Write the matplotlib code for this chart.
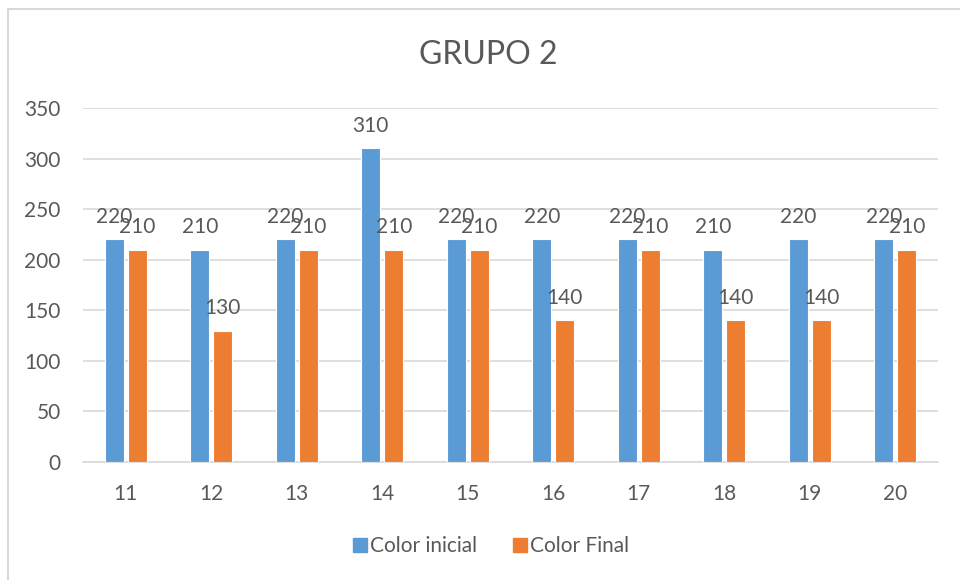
import matplotlib
matplotlib.use("Agg")
import matplotlib.pyplot as plt
from matplotlib.lines import Line2D
import numpy as np

# Measurements per student (group 2)
categories = ["11", "12", "13", "14", "15", "16", "17", "18", "19", "20"]
color_inicial = [220, 210, 220, 310, 220, 220, 220, 210, 220, 220]
color_final = [210, 130, 210, 210, 210, 140, 210, 140, 140, 210]

BLUE = "#5b9bd5"
ORANGE = "#ed7d31"
TEXT = "#595959"
GRID = "#d9d9d9"

plt.rcParams["font.family"] = ["Lato", "DejaVu Sans"]

fig = plt.figure(figsize=(9.6, 5.8), dpi=100)
ax = fig.add_axes([83 / 960, 1 - 462 / 580, 855 / 960, 354 / 580])

x = np.arange(len(categories))
w = 0.22
off = 0.135
b1 = ax.bar(x - off, color_inicial, w, color=BLUE, edgecolor="white", linewidth=0.8, zorder=3)
b2 = ax.bar(x + off, color_final, w, color=ORANGE, edgecolor="white", linewidth=0.8, zorder=3)

for bars, vals in ((b1, color_inicial), (b2, color_final)):
    for r, v in zip(bars, vals):
        ax.annotate(str(v), (r.get_x() + r.get_width() / 2, v), xytext=(0, 9),
                    textcoords="offset points", ha="center", va="bottom",
                    fontsize=15, color=TEXT, zorder=4)

ax.set_xlim(-0.5, len(categories) - 0.5)
ax.set_ylim(0, 350)
ax.set_yticks(range(0, 351, 50))
ax.set_xticks(x)
ax.set_xticklabels(categories)
ax.yaxis.grid(True, color=GRID, linewidth=1.2, zorder=0)
ax.set_axisbelow(True)
for s in ("top", "right", "left"):
    ax.spines[s].set_visible(False)
ax.spines["bottom"].set_color(GRID)
ax.spines["bottom"].set_linewidth(1.2)
ax.tick_params(axis="both", length=0, labelsize=15, colors=TEXT)
ax.tick_params(axis="y", pad=16)
ax.tick_params(axis="x", pad=16)

fig.text(488 / 960, 1 - 55 / 580, "GRUPO 2", ha="center", va="center",
         fontsize=23, color=TEXT)

handles = [Line2D([], [], marker="s", linestyle="", markersize=10, color=BLUE),
           Line2D([], [], marker="s", linestyle="", markersize=10, color=ORANGE)]
fig.legend(handles, ["Color inicial", "Color Final"], loc="center",
           bbox_to_anchor=(490 / 960, 1 - 546 / 580), ncol=2, frameon=False,
           fontsize=15, labelcolor=TEXT, handletextpad=0.05, columnspacing=1.6,
           handlelength=0.9)

# chart area border (top and left edges)
fig.add_artist(Line2D([8 / 960, 8 / 960], [0, 1 - 9 / 580], transform=fig.transFigure,
                      color=GRID, linewidth=1.5))
fig.add_artist(Line2D([8 / 960, 1], [1 - 9 / 580, 1 - 9 / 580], transform=fig.transFigure,
                      color=GRID, linewidth=1.5))

fig.savefig("out.png", dpi=100)
